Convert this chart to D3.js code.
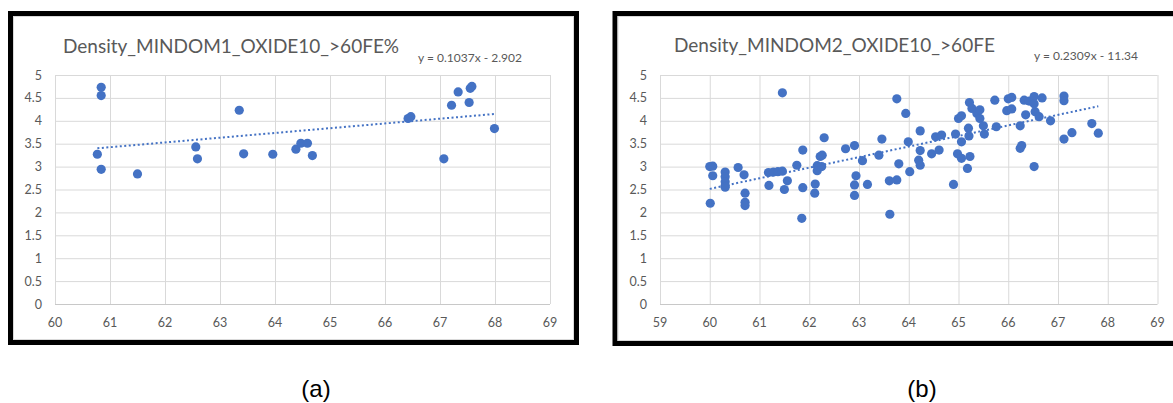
<!DOCTYPE html>
<html>
<head>
<meta charset="utf-8">
<script src="https://cdn.jsdelivr.net/npm/d3@7"></script>
<style>
  body { margin: 0; background: #fff; }
  svg { display: block; }
</style>
</head>
<body>
<svg id="chart"></svg>
<script>

// DATA

const titles = ["Density_MINDOM1_OXIDE10_>60FE%", "Density_MINDOM2_OXIDE10_>60FE"];
const captions = ["(a)", "(b)"];
const slopes = [0.1037, 0.2309];
const intercepts = [-2.902, -11.34];
const equations = ["y = 0.1037x - 2.902", "y = 0.2309x - 11.34"];

const yTicks = [0, 0.5, 1, 1.5, 2, 2.5, 3, 3.5, 4, 4.5, 5];
const xTicksA = [60, 61, 62, 63, 64, 65, 66, 67, 68, 69];
const xTicksB = [59, 60, 61, 62, 63, 64, 65, 66, 67, 68, 69];

const xA = [60.84, 60.84, 60.77, 60.84, 61.50, 62.56, 62.59, 63.35, 63.43, 63.96,
  64.38, 64.47, 64.59, 64.68, 66.42, 66.47, 67.07, 67.21, 67.33, 67.53,
  67.55, 67.58, 67.99];
const yA = [4.73, 4.55, 3.27, 2.94, 2.84, 3.43, 3.17, 4.23, 3.28, 3.27,
  3.38, 3.51, 3.51, 3.24, 4.05, 4.09, 3.17, 4.34, 4.63, 4.40,
  4.71, 4.75, 3.83];

const xB = [60.00, 60.06, 60.06, 60.01, 60.31, 60.31, 60.31, 60.31, 60.31, 60.57,
  60.69, 60.71, 60.71, 60.71, 61.19, 61.18, 61.28, 61.37, 61.46, 61.46,
  61.50, 61.56, 61.75, 61.87, 61.87, 61.85, 62.12, 62.11, 62.16, 62.16,
  62.22, 62.26, 62.25, 62.30, 62.73, 62.91, 62.94, 62.91, 62.91, 63.07,
  63.17, 63.40, 63.46, 63.61, 63.62, 63.76, 63.76, 63.80, 63.94, 64.02,
  63.99, 64.23, 64.23, 64.20, 64.23, 64.46, 64.54, 64.61, 64.66, 64.90,
  64.94, 64.98, 65.00, 65.06, 65.06, 65.06, 65.18, 65.20, 65.21, 65.23,
  65.22, 65.27, 65.37, 65.43, 65.43, 65.50, 65.52, 65.73, 65.76, 65.97,
  66.00, 66.07, 66.07, 66.24, 66.24, 66.27, 66.32, 66.35, 66.42, 66.52,
  66.52, 66.52, 66.54, 66.62, 66.68, 66.85, 67.12, 67.12, 67.12, 67.28,
  67.68, 67.81];
const yB = [3.00, 3.01, 2.80, 2.20, 2.88, 2.78, 2.67, 2.58, 2.55, 2.98,
  2.82, 2.42, 2.22, 2.15, 2.59, 2.87, 2.88, 2.89, 2.90, 4.61,
  2.50, 2.69, 3.03, 2.54, 3.36, 1.87, 2.62, 2.42, 3.02, 2.91,
  3.22, 3.25, 3.00, 3.63, 3.39, 3.46, 2.80, 2.60, 2.37, 3.13,
  2.61, 3.25, 3.60, 2.69, 1.96, 2.71, 4.48, 3.06, 4.16, 2.89,
  3.54, 3.78, 3.35, 3.14, 3.03, 3.28, 3.65, 3.36, 3.69, 2.61,
  3.71, 3.28, 4.05, 4.11, 3.54, 3.18, 2.96, 3.84, 3.67, 3.22,
  4.40, 4.27, 4.16, 4.24, 4.05, 3.89, 3.71, 4.45, 3.87, 4.22,
  4.48, 4.51, 4.26, 3.89, 3.40, 3.46, 4.45, 4.13, 4.43, 4.53,
  4.37, 3.00, 4.20, 4.09, 4.50, 4.00, 4.54, 4.44, 3.60, 3.74,
  3.94, 3.73];


// SETUP

const width = 1173;
const height = 403;

const svg = d3.select("#chart")
  .attr("width", width)
  .attr("height", height);

const blue = "#4472C4";
const gray = "#595959";
const font = "Lato, 'Open Sans', sans-serif";

const panels = [
  {
    xs: xA, ys: yA, xTicks: xTicksA,
    box: [10.5, 13.5, 566, 329],
    plot: [55, 75, 550, 304],
    title: [63, 53], eq: [418, 62], caption: [316, 397]
  },
  {
    xs: xB, ys: yB, xTicks: xTicksB,
    box: [615, 13.5, 580, 330],
    plot: [660, 75, 1157.5, 304],
    title: [674, 52], eq: [1034, 60], caption: [922, 397]
  }
];


// DRAW PANELS

panels.forEach((p, i) => {

  const g = svg.append("g");

  // frame
  g.append("rect")
    .attr("x", p.box[0])
    .attr("y", p.box[1])
    .attr("width", p.box[2])
    .attr("height", p.box[3])
    .attr("fill", "#fff")
    .attr("stroke", "#000")
    .attr("stroke-width", 5);

  g.append("rect")
    .attr("x", p.box[0] + 3)
    .attr("y", p.box[1] + 3)
    .attr("width", p.box[2] - 6)
    .attr("height", p.box[3] - 6)
    .attr("fill", "none")
    .attr("stroke", "#d9d9d9")
    .attr("stroke-width", 1);

  const x = d3.scaleLinear()
    .domain(d3.extent(p.xTicks))
    .range([p.plot[0], p.plot[2]]);

  const y = d3.scaleLinear()
    .domain([0, 5])
    .range([p.plot[3], p.plot[1]]);

  // grid
  g.append("g")
    .attr("transform", `translate(0,${p.plot[3]})`)
    .call(d3.axisBottom(x)
      .tickValues(p.xTicks)
      .tickSize(-(p.plot[3] - p.plot[1]))
      .tickFormat(""))
    .call(a => a.select(".domain").remove())
    .selectAll("line")
    .attr("stroke", "#d9d9d9");

  g.append("g")
    .attr("transform", `translate(${p.plot[0]},0)`)
    .call(d3.axisLeft(y)
      .tickValues(yTicks)
      .tickSize(-(p.plot[2] - p.plot[0]))
      .tickFormat(""))
    .call(a => a.select(".domain").remove())
    .selectAll("line")
    .attr("stroke", d => d === 0 ? "#c8c8c8" : "#d9d9d9");

  // tick labels
  g.append("g")
    .selectAll("text")
    .data(yTicks)
    .enter()
    .append("text")
    .attr("x", p.plot[0] - 13)
    .attr("y", d => y(d))
    .attr("dy", "0.36em")
    .attr("text-anchor", "end")
    .attr("font-family", font)
    .attr("font-size", "12.5px")
    .attr("fill", gray)
    .text(d => d);

  g.append("g")
    .selectAll("text")
    .data(p.xTicks)
    .enter()
    .append("text")
    .attr("x", d => x(d))
    .attr("y", p.plot[3] + 23)
    .attr("text-anchor", "middle")
    .attr("font-family", font)
    .attr("font-size", "12.5px")
    .attr("fill", gray)
    .text(d => d);

  // trendline
  const xr = d3.extent(p.xs);

  g.append("line")
    .attr("x1", x(xr[0]))
    .attr("y1", y(slopes[i] * xr[0] + intercepts[i]))
    .attr("x2", x(xr[1]))
    .attr("y2", y(slopes[i] * xr[1] + intercepts[i]))
    .attr("stroke", blue)
    .attr("stroke-width", 2)
    .attr("stroke-dasharray", "2 2.5");

  // points
  g.append("g")
    .selectAll("circle")
    .data(p.xs.map((v, k) => [v, p.ys[k]]))
    .enter()
    .append("circle")
    .attr("cx", d => x(d[0]))
    .attr("cy", d => y(d[1]))
    .attr("r", 4.6)
    .attr("fill", blue);

  // texts
  g.append("text")
    .attr("x", p.title[0])
    .attr("y", p.title[1])
    .attr("font-family", font)
    .attr("font-size", "19px")
    .attr("fill", gray)
    .text(titles[i]);

  g.append("text")
    .attr("x", p.eq[0])
    .attr("y", p.eq[1])
    .attr("font-family", font)
    .attr("font-size", "12px")
    .attr("fill", gray)
    .text(equations[i]);

  svg.append("text")
    .attr("x", p.caption[0])
    .attr("y", p.caption[1])
    .attr("text-anchor", "middle")
    .attr("font-family", "'Liberation Sans', Arial, sans-serif")
    .attr("font-size", "24px")
    .attr("fill", "#000")
    .text(captions[i]);

});

</script>
</body>
</html>
